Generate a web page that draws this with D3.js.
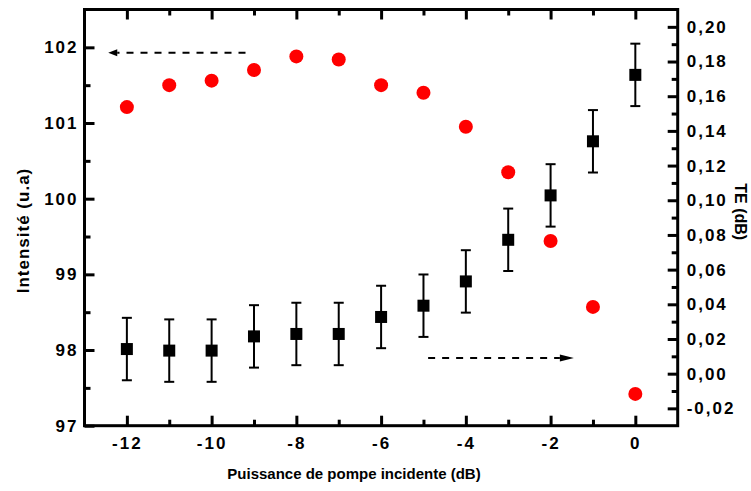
<!DOCTYPE html>
<html>
<head>
<meta charset="utf-8">
<script src="https://cdn.jsdelivr.net/npm/d3@7"></script>
<style>
  html, body { margin: 0; padding: 0; background: #fff; }
  svg { display: block; }
  text { font-family: "Liberation Sans", Arial, sans-serif; font-weight: bold; fill: #000; }
</style>
</head>
<body>
<svg id="chart" width="751" height="491"></svg>
<script>
// ---- data ----
const pompe = [-12, -11, -10, -9, -8, -7, -6, -5, -4, -3, -2, -1, 0];
const intensite = [101.21, 101.50, 101.56, 101.70, 101.88, 101.84, 101.50, 101.40, 100.95, 100.35, 99.44, 98.57, 97.42];
const te = [0.0142, 0.0133, 0.0133, 0.0215, 0.0229, 0.0229, 0.0327, 0.0392, 0.0532, 0.0772, 0.1028, 0.1340, 0.1723];
const teErr = [0.018, 0.018, 0.018, 0.018, 0.018, 0.018, 0.018, 0.018, 0.018, 0.018, 0.018, 0.018, 0.018];

const xTicks = [-12, -10, -8, -6, -4, -2, 0];
const xMinorTicks = [-11, -9, -7, -5, -3, -1];
const yLeftTicks = [97, 98, 99, 100, 101, 102];
const yLeftMinorTicks = [97.5, 98.5, 99.5, 100.5, 101.5];
const yRightTicks = [-0.02, 0, 0.02, 0.04, 0.06, 0.08, 0.10, 0.12, 0.14, 0.16, 0.18, 0.20];
const yRightMinorTicks = [-0.01, 0.01, 0.03, 0.05, 0.07, 0.09, 0.11, 0.13, 0.15, 0.17, 0.19];

// annotation arrows (data units)
const arrowLeft = { from: -9.2, to: -12.44, y: 101.93 };   // left axis
const arrowRight = { from: -4.89, to: -1.45, y: 0.009 };   // right axis

const xTitle = "Puissance de pompe incidente (dB)";
const yLeftTitle = "Intensité (u.a)";
const yRightTitle = "TE (dB)";

// ---- layout ----
const W = 751, H = 491;
const m = { left: 84.5, right: 73.3, top: 9.5, bottom: 65.3 };
const x0 = m.left, x1 = W - m.right, yTop = m.top, yBot = H - m.bottom;

const svg = d3.select("#chart");

const x = d3.scaleLinear().domain([-13, 1]).range([x0, x1]);
const yL = d3.scaleLinear().domain([97, 102.5]).range([yBot, yTop]);
const yR = d3.scaleLinear().domain([-0.03, 0.21]).range([yBot, yTop]);

const fmtR = d => (d < -1e-9 ? "-" : "") + Math.abs(d).toFixed(2).replace(".", ",");
const fmtX = d => (d < 0 ? "-" : "") + Math.abs(d);

const MAJ = 10, MIN = 6;
function styleAxis(g) {
  g.select(".domain").remove();
  g.selectAll(".tick line").attr("stroke", "#000").attr("stroke-width", 3);
  g.selectAll(".tick text").style("font-size", "17px").style("letter-spacing", "2px");
}

// bottom
svg.append("g").attr("transform", `translate(0,${yBot})`)
  .call(d3.axisBottom(x).tickValues(xTicks).tickSize(-MAJ).tickPadding(11).tickFormat(fmtX)).call(styleAxis);
svg.append("g").attr("transform", `translate(0,${yBot})`)
  .call(d3.axisBottom(x).tickValues(xMinorTicks).tickSize(-MIN).tickFormat("")).call(styleAxis);
// top
svg.append("g").attr("transform", `translate(0,${yTop})`)
  .call(d3.axisTop(x).tickValues(xTicks).tickSize(-MAJ).tickFormat("")).call(styleAxis);
svg.append("g").attr("transform", `translate(0,${yTop})`)
  .call(d3.axisTop(x).tickValues(xMinorTicks).tickSize(-MIN).tickFormat("")).call(styleAxis);
// left
svg.append("g").attr("transform", `translate(${x0},0)`)
  .call(d3.axisLeft(yL).tickValues(yLeftTicks).tickSize(-MAJ).tickPadding(6).tickFormat(d3.format("d"))).call(styleAxis);
svg.append("g").attr("transform", `translate(${x0},0)`)
  .call(d3.axisLeft(yL).tickValues(yLeftMinorTicks).tickSize(-MIN).tickFormat("")).call(styleAxis);
// right
svg.append("g").attr("transform", `translate(${x1},0)`)
  .call(d3.axisRight(yR).tickValues(yRightTicks).tickSize(-MAJ).tickPadding(9).tickFormat(fmtR)).call(styleAxis);
svg.append("g").attr("transform", `translate(${x1},0)`)
  .call(d3.axisRight(yR).tickValues(yRightMinorTicks).tickSize(-MIN).tickFormat("")).call(styleAxis);

// frame
svg.append("rect").attr("x", x0).attr("y", yTop).attr("width", x1 - x0).attr("height", yBot - yTop)
  .attr("fill", "none").attr("stroke", "#000").attr("stroke-width", 3);

// error bars for TE
const errG = svg.append("g").attr("stroke", "#000").attr("stroke-width", 2);
pompe.forEach((p, i) => {
  const cx = x(p), ya = yR(te[i] + teErr[i]), yb = yR(te[i] - teErr[i]);
  errG.append("line").attr("x1", cx).attr("x2", cx).attr("y1", ya).attr("y2", yb);
  errG.append("line").attr("x1", cx - 5).attr("x2", cx + 5).attr("y1", ya).attr("y2", ya);
  errG.append("line").attr("x1", cx - 5).attr("x2", cx + 5).attr("y1", yb).attr("y2", yb);
});
// squares (TE)
const sq = 12;
svg.append("g").selectAll("rect").data(pompe).join("rect")
  .attr("x", (d) => x(d) - sq / 2).attr("y", (d, i) => yR(te[i]) - sq / 2)
  .attr("width", sq).attr("height", sq).attr("fill", "#000");

// circles (Intensité)
svg.append("g").selectAll("circle").data(pompe).join("circle")
  .attr("cx", d => x(d)).attr("cy", (d, i) => yL(intensite[i])).attr("r", 7).attr("fill", "#ff0000");

// arrows
function arrow(a, yScale, headLen, headHalf) {
  const y = yScale(a.y), xs = x(a.from), xe = x(a.to);
  const dir = Math.sign(xe - xs);
  const base = xe - dir * headLen;
  svg.append("line").attr("x1", xs).attr("x2", base).attr("y1", y).attr("y2", y)
    .attr("stroke", "#000").attr("stroke-width", 2).attr("stroke-dasharray", "7,7");
  svg.append("path").attr("d", `M${xe},${y}L${base},${y - headHalf}L${base},${y + headHalf}Z`).attr("fill", "#000");
}
arrow(arrowLeft, yL, 9, 3.5);
arrow(arrowRight, yR, 14, 3.5);

// titles
svg.append("text").attr("x", 354).attr("y", 478.5).attr("text-anchor", "middle")
  .style("font-size", "15px").text(xTitle);
svg.append("text").attr("transform", `translate(28.5,${230.5}) rotate(-90)`).attr("text-anchor", "middle")
  .style("font-size", "17px").style("letter-spacing", "1px").text(yLeftTitle);
svg.append("text").attr("transform", `translate(735,${211.7}) rotate(90)`).attr("text-anchor", "middle")
  .style("font-size", "16px").text(yRightTitle);
</script>
</body>
</html>
